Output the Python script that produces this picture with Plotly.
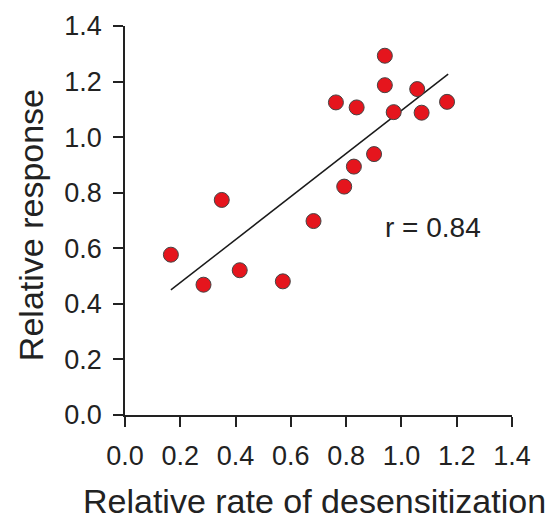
import plotly.graph_objects as go

# Data
rate_x = [0.166, 0.284, 0.350, 0.415, 0.571, 0.682, 0.763, 0.793, 0.828, 0.838,
          0.901, 0.940, 0.940, 0.972, 1.057, 1.073, 1.165]
response_y = [0.577, 0.469, 0.774, 0.521, 0.481, 0.698, 1.125, 0.822, 0.894, 1.107,
              0.939, 1.293, 1.187, 1.090, 1.173, 1.088, 1.127]
fit_x = [0.166, 1.169]
fit_y = [0.450, 1.227]
tick_vals = [0.0, 0.2, 0.4, 0.6, 0.8, 1.0, 1.2, 1.4]
tick_text = ["0.0", "0.2", "0.4", "0.6", "0.8", "1.0", "1.2", "1.4"]
x_title = "Relative rate of desensitization"
y_title = "Relative response"
r_label = "r = 0.84"
r_pos = (1.113, 0.674)

FONT = "Liberation Sans, Arial, sans-serif"
INK = "#222222"

fig = go.Figure()
fig.add_trace(go.Scatter(x=fit_x, y=fit_y, mode="lines",
                         line=dict(color="#1a1a1a", width=1.5),
                         showlegend=False, hoverinfo="skip"))
fig.add_trace(go.Scatter(x=rate_x, y=response_y, mode="markers",
                         marker=dict(size=15, color="#e5151d",
                                     line=dict(color="#444444", width=1)),
                         showlegend=False))

fig.add_annotation(x=r_pos[0], y=r_pos[1], text=r_label, showarrow=False,
                   font=dict(family=FONT, size=28, color=INK),
                   xanchor="center", yanchor="middle")

# axis titles placed as paper-referenced annotations
fig.add_annotation(xref="paper", yref="paper", x=0.49, y=-0.221, text=x_title,
                   showarrow=False, xanchor="center", yanchor="middle",
                   font=dict(family=FONT, size=34, color=INK))
fig.add_annotation(xref="paper", yref="paper", x=-0.243, y=0.488, text=y_title,
                   showarrow=False, xanchor="center", yanchor="middle", textangle=-90,
                   font=dict(family=FONT, size=34, color=INK))

axis_common = dict(
    range=[0, 1.4], tickmode="array", tickvals=tick_vals, ticktext=tick_text,
    showgrid=False, zeroline=False, showline=True, linecolor=INK, linewidth=1.5,
    ticks="outside", ticklen=10, tickwidth=1.5, tickcolor=INK,
    tickfont=dict(family=FONT, size=27, color=INK),
    fixedrange=True, automargin=False,
)

fig.update_xaxes(**axis_common, ticklabelstandoff=6)
fig.update_yaxes(**axis_common, ticklabelstandoff=6)

# page body has an 8px margin, so the figure is sized/offset to compensate
fig.update_layout(
    width=552, height=513,
    margin=dict(l=117, r=48, t=18, b=106),
    paper_bgcolor="white", plot_bgcolor="white",
    font=dict(family=FONT, color=INK),
)

fig.write_html("out.html")
